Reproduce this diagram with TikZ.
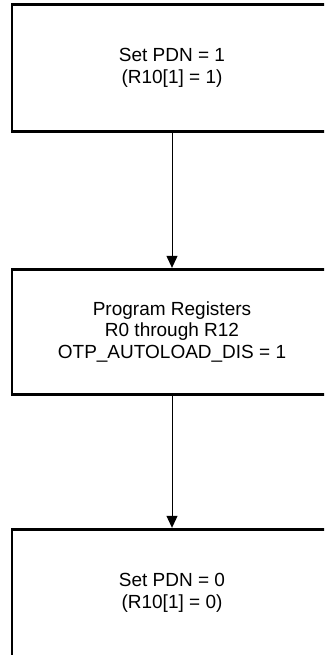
\documentclass[tikz,border=0pt]{standalone}
\usepackage{fontspec}
\setmainfont{Liberation Sans}
\usetikzlibrary{arrows.meta}
\begin{document}
\begin{tikzpicture}[x=1pt,y=-1pt,
  stepbox/.style={draw=black, line width=2.8pt, rectangle, minimum width=320pt,
    inner sep=0pt, align=center, font=\fontsize{19}{21.5}\selectfont},
  flow/.style={draw=black, line width=1pt, -{Triangle[length=12pt,width=11pt]}}]
\useasboundingbox (0,0) rectangle (324,655);
\clip (0,0) rectangle (324,655);
\node[stepbox, minimum height=127.6pt] (b1) at (172,68) {Set PDN = 1\\(R10[1] = 1)};
\node[stepbox, minimum height=125.3pt] (b2) at (172,331.9) {Program Registers\\R0 through R12\\OTP\_AUTOLOAD\_DIS = 1};
\node[stepbox, minimum height=127.6pt] (b3) at (172,593) {Set PDN = 0\\(R10[1] = 0)};
\draw[flow] (b1) -- (b2);
\draw[flow] (b2) -- (b3);
\end{tikzpicture}
\end{document}
